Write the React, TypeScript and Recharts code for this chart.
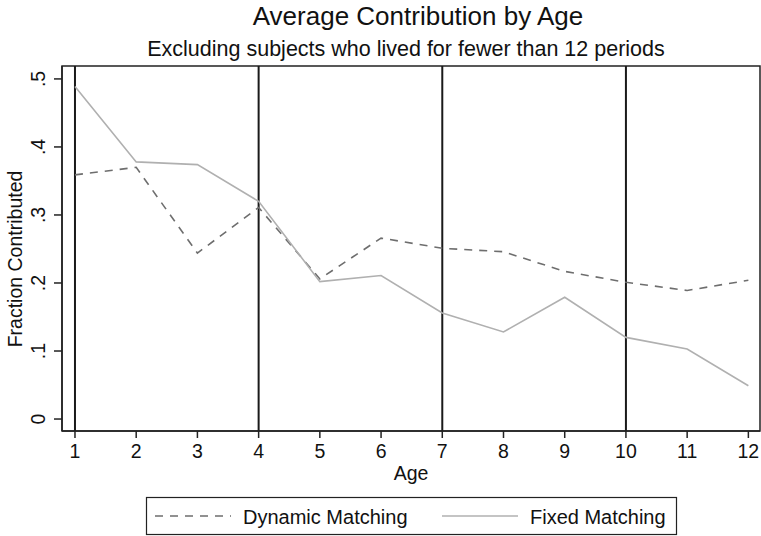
import { LineChart, Line, XAxis, YAxis, ReferenceLine, ReferenceArea } from "recharts"

const ages = [1, 2, 3, 4, 5, 6, 7, 8, 9, 10, 11, 12]
const dynamicMatching = [0.359, 0.37, 0.244, 0.311, 0.206, 0.266, 0.251, 0.246, 0.217, 0.201, 0.189, 0.204]
const fixedMatching = [0.489, 0.378, 0.374, 0.32, 0.202, 0.211, 0.156, 0.128, 0.179, 0.12, 0.103, 0.049]
const markerAges = [1, 4, 7, 10]
const yTicks = [0, 0.1, 0.2, 0.3, 0.4, 0.5]

const title = "Average Contribution by Age"
const subtitle = "Excluding subjects who lived for fewer than 12 periods"

const series = [
  { key: "dynamic", name: "Dynamic Matching", color: "#6e6e6e", dash: "8 7" },
  { key: "fixed", name: "Fixed Matching", color: "#b0b0b0", dash: undefined },
]

const data = ages.map((age, i) => ({ age, dynamic: dynamicMatching[i], fixed: fixedMatching[i] }))

const font = "'Liberation Sans', Arial, Helvetica, sans-serif"
const xDomain = [0.788, 12.19]
const yDomain = [-0.0176, 0.519]

const fmtY = (v: number) => (v === 0 ? "0" : String(v).replace(/^0/, ""))

function YTick(props: any) {
  const { x, y, payload } = props
  return (
    <text x={x} y={y} transform={`rotate(-90, ${x}, ${y})`} textAnchor="middle" fontSize={19.5} fill="#111" fontFamily={font}>
      {fmtY(payload.value)}
    </text>
  )
}

function XTick(props: any) {
  const { x, y, payload } = props
  return (
    <text x={x} y={y + 20} textAnchor="middle" fontSize={19.5} fill="#111" fontFamily={font}>
      {payload.value}
    </text>
  )
}

export default function App() {
  return (
    <div style={{ position: "absolute", left: 0, top: 0, width: 761, height: 536, background: "#fff" }}>
      <LineChart width={761} height={536} data={data} margin={{ top: 66, right: 1, left: 22, bottom: 65 }}>
        <XAxis
          dataKey="age"
          type="number"
          domain={xDomain}
          allowDataOverflow
          ticks={ages}
          height={40}
          tickSize={7}
          tickMargin={0}
          stroke="#222"
          strokeWidth={1.5}
          tick={<XTick />}
        />
        <YAxis
          type="number"
          domain={yDomain}
          allowDataOverflow
          ticks={yTicks}
          width={40}
          tickSize={8}
          tickMargin={9}
          stroke="#222"
          strokeWidth={1.5}
          tick={<YTick />}
        />
        <ReferenceArea x1={xDomain[0]} x2={xDomain[1]} y1={yDomain[0]} y2={yDomain[1]} fill="none" stroke="#222" strokeWidth={1.5} />
        {markerAges.map((a) => (
          <ReferenceLine key={a} x={a} stroke="#1a1a1a" strokeWidth={2} />
        ))}
        {series.map((s) => (
          <Line
            key={s.key}
            dataKey={s.key}
            name={s.name}
            type="linear"
            stroke={s.color}
            strokeWidth={1.6}
            strokeDasharray={s.dash}
            dot={false}
            activeDot={false}
            isAnimationActive={false}
          />
        ))}
      </LineChart>
      <svg width={761} height={536} style={{ position: "absolute", left: 0, top: 0, pointerEvents: "none" }} fontFamily={font} fill="#111">
        <text x={418} y={25} textAnchor="middle" fontSize={26}>{title}</text>
        <text x={406} y={56} textAnchor="middle" fontSize={21.5}>{subtitle}</text>
        <text x={22} y={259} transform="rotate(-90, 22, 259)" textAnchor="middle" fontSize={19.5}>Fraction Contributed</text>
        <text x={411} y={480} textAnchor="middle" fontSize={19.5}>Age</text>
        <rect x={146.5} y={497.5} width={530} height={37} fill="none" stroke="#222" strokeWidth={1.2} />
        {series.map((s, i) => {
          const x0 = i === 0 ? 155 : 442
          return (
            <g key={s.key}>
              <line x1={x0} x2={x0 + 76} y1={516} y2={516} stroke={s.color} strokeWidth={1.6} strokeDasharray={s.dash} />
              <text x={x0 + 88} y={524} fontSize={20}>{s.name}</text>
            </g>
          )
        })}
      </svg>
    </div>
  )
}
